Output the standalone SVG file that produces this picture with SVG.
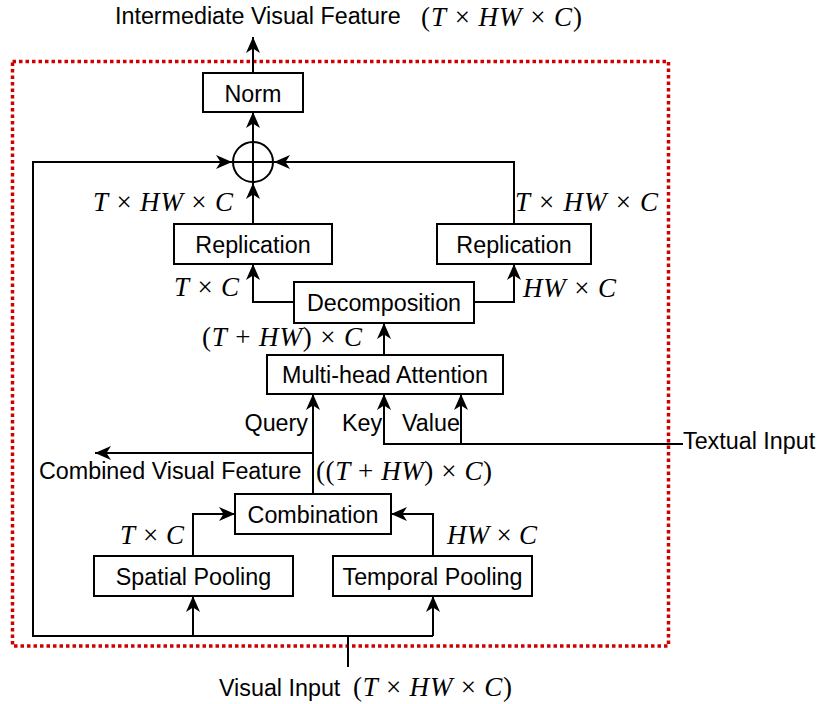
<svg xmlns="http://www.w3.org/2000/svg" width="819" height="704" viewBox="0 0 819 704">
<style>
.box{fill:#fff;stroke:#000;stroke-width:2}
.lbl{font-family:"Liberation Sans",Arial,sans-serif;font-size:23.3px;fill:#000}
.mid{text-anchor:middle}
.m{font-family:"Liberation Serif","Times New Roman",serif;font-size:27px;fill:#000}
.i{font-style:italic}
.ln{fill:none;stroke:#000;stroke-width:2}
.arr{marker-end:url(#ah)}
</style>
<defs>
<marker id="ah" markerUnits="userSpaceOnUse" markerWidth="18" markerHeight="16" refX="16" refY="8" orient="auto" viewBox="0 0 18 16">
<path d="M0,1 L16,8 L0,15 L4.5,8 Z" fill="#000"/>
</marker>
</defs>
<rect width="819" height="704" fill="#fff"/>
<rect id="frame" x="12.5" y="61.5" width="656" height="584.5" fill="none" stroke="#D00000" stroke-width="3.5" stroke-dasharray="3.5 3"/>

<g id="connectors">
<path class="ln arr" d="M253,73 V37"/>
<path class="ln arr" d="M253,142 V112"/>
<path class="ln arr" d="M253,224 V183"/>
<path class="ln arr" d="M348,667 V636 H33 V162 H232"/>
<path class="ln" d="M348,636 H433"/>
<path class="ln arr" d="M193,636 V596"/>
<path class="ln arr" d="M433,636 V596"/>
<path class="ln arr" d="M514,224 V162 H274"/>
<path class="ln arr" d="M294,302 H253 V264"/>
<path class="ln arr" d="M474,302 H514 V264"/>
<path class="ln arr" d="M384,355 V323"/>
<path class="ln arr" d="M313,494 V394"/>
<path class="ln arr" d="M313,453 H95"/>
<path class="ln arr" d="M683,444 H384 V394"/>
<path class="ln arr" d="M461,444 V394"/>
<path class="ln arr" d="M193,556 V514 H235"/>
<path class="ln arr" d="M433,556 V514 H391"/>
</g>

<g id="sum">
<circle cx="253" cy="162" r="20" fill="#fff" stroke="#000" stroke-width="2"/>
<path class="ln" d="M233,162 H273 M253,142 V182"/>
</g>

<g id="norm"><rect class="box" x="203" y="73" width="100" height="39"/><text class="lbl mid" x="253" y="101.5">Norm</text></g>
<g id="replication-left"><rect class="box" x="174" y="224" width="158" height="40"/><text class="lbl mid" x="253" y="252.5">Replication</text></g>
<g id="replication-right"><rect class="box" x="437" y="224" width="154" height="40"/><text class="lbl mid" x="514" y="252.5">Replication</text></g>
<g id="decomposition"><rect class="box" x="294" y="282" width="180" height="41"/><text class="lbl mid" x="384" y="311">Decomposition</text></g>
<g id="mha"><rect class="box" x="267" y="355" width="236" height="39"/><text class="lbl mid" x="385" y="383">Multi-head Attention</text></g>
<g id="combination"><rect class="box" x="235" y="494" width="156" height="40"/><text class="lbl mid" x="313" y="522.5">Combination</text></g>
<g id="spatial"><rect class="box" x="94" y="556" width="199" height="40"/><text class="lbl mid" x="193.5" y="584.5">Spatial Pooling</text></g>
<g id="temporal"><rect class="box" x="333" y="556" width="199" height="40"/><text class="lbl mid" x="432.5" y="584.5">Temporal Pooling</text></g>

<g id="labels">
<text class="lbl" x="115" y="24">Intermediate Visual Feature</text>
<text class="m" x="421" y="26" textLength="161">(<tspan class="i">T</tspan> × <tspan class="i">HW</tspan> × <tspan class="i">C</tspan>)</text>
<text class="m" x="93" y="211" textLength="140"><tspan class="i">T</tspan> × <tspan class="i">HW</tspan> × <tspan class="i">C</tspan></text>
<text class="m" x="515" y="211" textLength="143"><tspan class="i">T</tspan> × <tspan class="i">HW</tspan> × <tspan class="i">C</tspan></text>
<text class="m" x="174" y="296" textLength="65"><tspan class="i">T</tspan> × <tspan class="i">C</tspan></text>
<text class="m" x="523" y="297" textLength="93"><tspan class="i">HW</tspan> × <tspan class="i">C</tspan></text>
<text class="m" x="202" y="346" textLength="160">(<tspan class="i">T</tspan> + <tspan class="i">HW</tspan>) × <tspan class="i">C</tspan></text>
<text class="lbl" x="308" y="431" text-anchor="end">Query</text>
<text class="lbl" x="342" y="431">Key</text>
<text class="lbl" x="402" y="431">Value</text>
<text class="lbl" x="683" y="449">Textual Input</text>
<text class="lbl" x="39" y="479">Combined Visual Feature</text>
<text class="m" x="316" y="480" textLength="176">((<tspan class="i">T</tspan> + <tspan class="i">HW</tspan>) × <tspan class="i">C</tspan>)</text>
<text class="m" x="120" y="544" textLength="64"><tspan class="i">T</tspan> × <tspan class="i">C</tspan></text>
<text class="m" x="447" y="544" textLength="90"><tspan class="i">HW</tspan> × <tspan class="i">C</tspan></text>
<text class="lbl" x="219" y="696">Visual Input</text>
<text class="m" x="353" y="696" textLength="159">(<tspan class="i">T</tspan> × <tspan class="i">HW</tspan> × <tspan class="i">C</tspan>)</text>
</g>
</svg>
